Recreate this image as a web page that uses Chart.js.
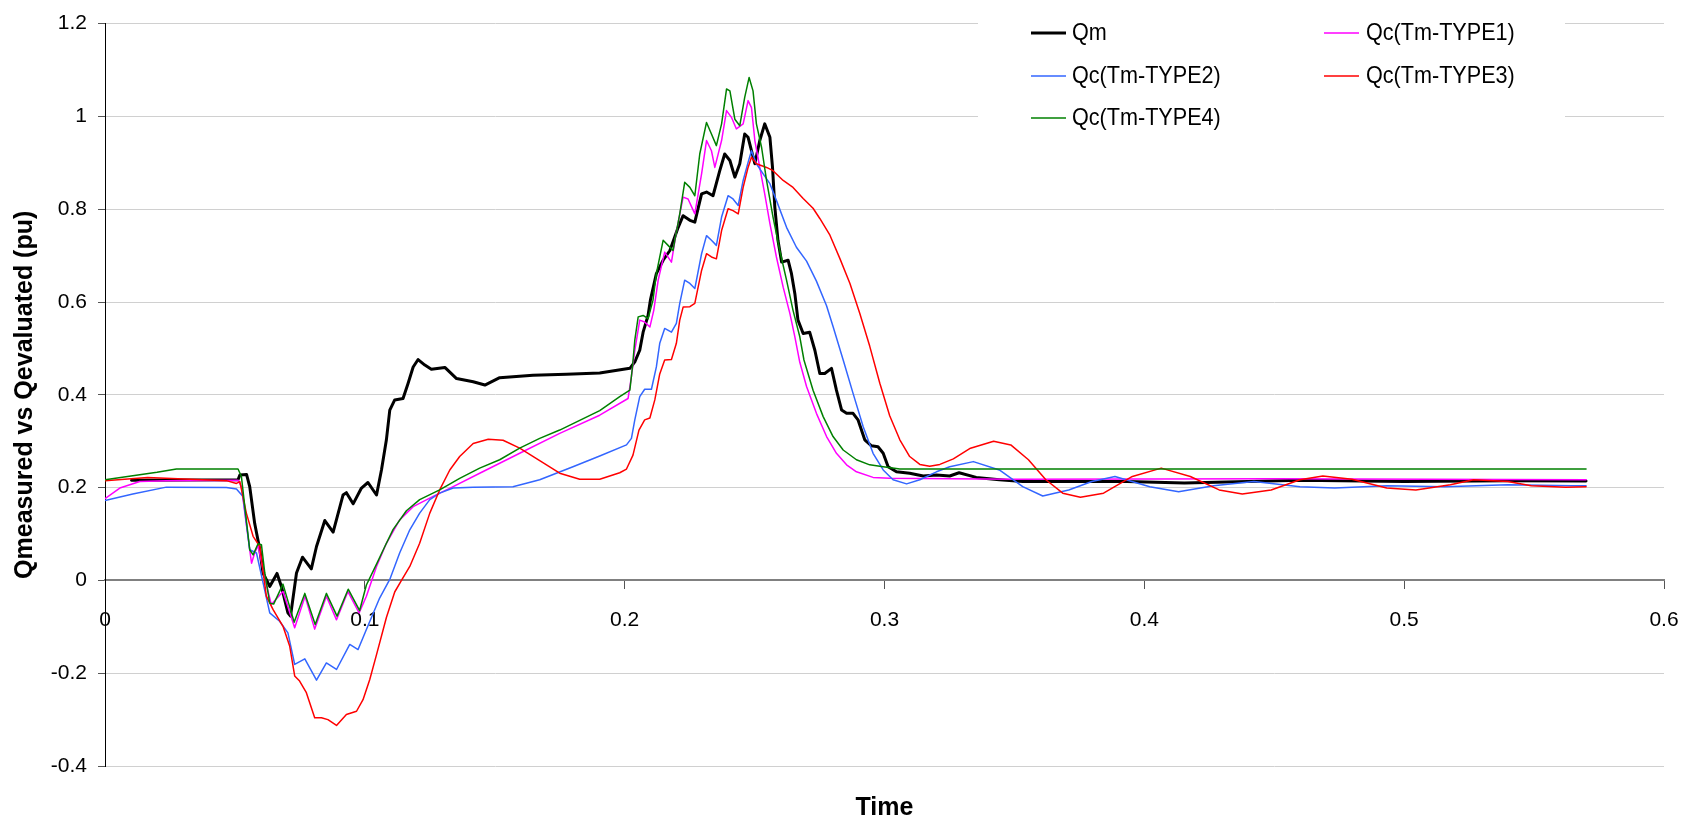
<!DOCTYPE html>
<html>
<head>
<meta charset="utf-8">
<script src="https://cdn.jsdelivr.net/npm/chart.js@4.4.1/dist/chart.umd.min.js"></script>
<style>
  html, body { margin: 0; padding: 0; background: #fff; }
  #c { display: block; }
</style>
</head>
<body>
<canvas id="c" width="1682" height="821"></canvas>
<script>
// ---------- DATA ----------
const seriesLabels = ['Qm', 'Qc(Tm-TYPE1)', 'Qc(Tm-TYPE2)', 'Qc(Tm-TYPE3)', 'Qc(Tm-TYPE4)'];
const xTickLabels = ['0', '0.1', '0.2', '0.3', '0.4', '0.5', '0.6'];
const yTickLabels = ['-0.4', '-0.2', '0', '0.2', '0.4', '0.6', '0.8', '1', '1.2'];
const xAxisTitle = 'Time';
const yAxisTitle = 'Qmeasured vs Qevaluated (pu)';

const qmTime = [0.0102, 0.0512, 0.0519, 0.0545, 0.0557, 0.0576, 0.0596, 0.0608, 0.0634, 0.0662,
  0.0679, 0.0704, 0.0714, 0.0737, 0.0760, 0.0794, 0.0814, 0.0846, 0.0878, 0.0916,
  0.0929, 0.0955, 0.0987, 0.1012, 0.1045, 0.1064, 0.1083, 0.1096, 0.1115, 0.1147,
  0.1166, 0.1186, 0.1205, 0.1231, 0.1256, 0.1308, 0.1353, 0.1417, 0.1462, 0.1519,
  0.1647, 0.1776, 0.1904, 0.2020, 0.2039, 0.2058, 0.2071, 0.2090, 0.2099, 0.2122,
  0.2148, 0.2174, 0.2206, 0.2225, 0.2251, 0.2270, 0.2296, 0.2315, 0.2340, 0.2366,
  0.2385, 0.2405, 0.2424, 0.2443, 0.2462, 0.2475, 0.2488, 0.2501, 0.2520, 0.2539,
  0.2559, 0.2569, 0.2578, 0.2590, 0.2604, 0.2629, 0.2642, 0.2655, 0.2667, 0.2687,
  0.2712, 0.2732, 0.2751, 0.2770, 0.2796, 0.2815, 0.2835, 0.2854, 0.2879, 0.2898,
  0.2924, 0.2950, 0.2975, 0.2995, 0.3014, 0.3046, 0.3097, 0.3149, 0.3200, 0.3251,
  0.3287, 0.3353, 0.3442, 0.3532, 0.3933, 0.4154, 0.4599, 0.5000, 0.5400, 0.5700];
const qmValues = [0.216, 0.217, 0.227, 0.228, 0.202, 0.123, 0.066, 0.016, -0.013, 0.015,
  -0.013, -0.070, -0.077, 0.016, 0.050, 0.025, 0.073, 0.129, 0.104, 0.184,
  0.189, 0.165, 0.199, 0.211, 0.184, 0.238, 0.303, 0.367, 0.389, 0.392,
  0.424, 0.460, 0.476, 0.464, 0.455, 0.459, 0.435, 0.428, 0.421, 0.437,
  0.442, 0.4445, 0.447, 0.457, 0.471, 0.496, 0.535, 0.571, 0.604, 0.661,
  0.690, 0.711, 0.761, 0.786, 0.776, 0.772, 0.833, 0.837, 0.829, 0.883,
  0.919, 0.905, 0.869, 0.898, 0.962, 0.955, 0.926, 0.898, 0.948, 0.984,
  0.955, 0.890, 0.804, 0.733, 0.686, 0.690, 0.661, 0.618, 0.561, 0.532,
  0.535, 0.496, 0.446, 0.446, 0.457, 0.410, 0.367, 0.360, 0.360, 0.346,
  0.303, 0.290, 0.288, 0.274, 0.245, 0.234, 0.231, 0.225, 0.227, 0.225,
  0.232, 0.222, 0.217, 0.213, 0.213, 0.210, 0.216, 0.213, 0.215, 0.214];

const type1Time = [0, 0.0057, 0.0134, 0.0236, 0.0512, 0.0525, 0.0544, 0.0564, 0.0576, 0.0589,
  0.0615, 0.0640, 0.0685, 0.0730, 0.0770, 0.0807, 0.0852, 0.0891, 0.0935, 0.0978,
  0.1006, 0.1045, 0.1083, 0.1134, 0.1186, 0.1263, 0.1340, 0.1442, 0.1596, 0.1750,
  0.1904, 0.2013, 0.2026, 0.2039, 0.2058, 0.2077, 0.2097, 0.2112, 0.2129, 0.2154,
  0.2180, 0.2199, 0.2225, 0.2244, 0.2270, 0.2296, 0.2315, 0.2334, 0.2347, 0.2373,
  0.2392, 0.2411, 0.2430, 0.2456, 0.2475, 0.2488, 0.2501, 0.2520, 0.2539, 0.2559,
  0.2584, 0.2610, 0.2636, 0.2655, 0.2674, 0.2700, 0.2738, 0.2777, 0.2815, 0.2854,
  0.2892, 0.2956, 0.3020, 0.3500, 0.4500, 0.5700];
const type1Values = [0.176, 0.199, 0.213, 0.215, 0.216, 0.202, 0.120, 0.037, 0.059, 0.075,
  0.005, -0.052, -0.024, -0.102, -0.034, -0.105, -0.034, -0.085, -0.024, -0.070,
  -0.034, 0.030, 0.080, 0.1305, 0.159, 0.181, 0.202, 0.231, 0.274, 0.317,
  0.356, 0.392, 0.439, 0.496, 0.561, 0.557, 0.546, 0.582, 0.647, 0.7075,
  0.686, 0.751, 0.826, 0.822, 0.790, 0.876, 0.948, 0.926, 0.890, 0.948,
  1.0125, 0.998, 0.973, 0.984, 1.034, 1.019, 0.948, 0.890, 0.833, 0.769,
  0.697, 0.632, 0.575, 0.525, 0.470, 0.418, 0.360, 0.310, 0.274, 0.249,
  0.234, 0.222, 0.220, 0.218, 0.219, 0.217];

const type2Time = [0, 0.0107, 0.0236, 0.0467, 0.0506, 0.0531, 0.0557, 0.0583, 0.0634, 0.0672,
  0.0704, 0.0730, 0.0769, 0.0814, 0.0852, 0.0891, 0.0942, 0.0974, 0.1006, 0.1057,
  0.1096, 0.1134, 0.1173, 0.1211, 0.1250, 0.1288, 0.1340, 0.1417, 0.1570, 0.1673,
  0.1801, 0.1904, 0.2007, 0.2026, 0.2039, 0.2058, 0.2077, 0.2103, 0.2122, 0.2135,
  0.2154, 0.2180, 0.2199, 0.2212, 0.2231, 0.2251, 0.2270, 0.2296, 0.2315, 0.2334,
  0.2353, 0.2373, 0.2398, 0.2417, 0.2437, 0.2456, 0.2475, 0.2488, 0.2507, 0.2533,
  0.2559, 0.2584, 0.2623, 0.2661, 0.2700, 0.2738, 0.2777, 0.2802, 0.2841, 0.2879,
  0.2918, 0.2956, 0.2995, 0.3033, 0.3085, 0.3136, 0.3200, 0.3251, 0.3342, 0.3442,
  0.3532, 0.3609, 0.3709, 0.3798, 0.3887, 0.4021, 0.4132, 0.4266, 0.4422, 0.4599,
  0.4733, 0.4933, 0.5156, 0.5399, 0.5646, 0.5700];
const type2Values = [0.172, 0.186, 0.201, 0.200, 0.197, 0.181, 0.066, 0.059, -0.070, -0.088,
  -0.113, -0.181, -0.169, -0.215, -0.178, -0.192, -0.138, -0.149, -0.106, -0.038,
  0.002, 0.059, 0.109, 0.145, 0.174, 0.188, 0.199, 0.201, 0.202, 0.217,
  0.245, 0.268, 0.292, 0.306, 0.346, 0.396, 0.412, 0.412, 0.460, 0.511,
  0.543, 0.535, 0.554, 0.597, 0.647, 0.640, 0.629, 0.704, 0.743, 0.733,
  0.722, 0.783, 0.829, 0.822, 0.808, 0.862, 0.901, 0.926, 0.898, 0.876,
  0.855, 0.819, 0.761, 0.718, 0.688, 0.645, 0.592, 0.547, 0.475, 0.403,
  0.331, 0.274, 0.238, 0.217, 0.208, 0.217, 0.234, 0.245, 0.256, 0.238,
  0.202, 0.182, 0.195, 0.213, 0.224, 0.202, 0.191, 0.204, 0.213, 0.202,
  0.199, 0.204, 0.202, 0.206, 0.204, 0.204];

const type3Time = [0, 0.0164, 0.0467, 0.0506, 0.0519, 0.0544, 0.0570, 0.0596, 0.0621, 0.0647,
  0.0685, 0.0711, 0.0730, 0.0749, 0.0775, 0.0807, 0.0833, 0.0858, 0.0891, 0.0929,
  0.0968, 0.0993, 0.1019, 0.1045, 0.1083, 0.1115, 0.1141, 0.1173, 0.1211, 0.1250,
  0.1288, 0.1327, 0.1365, 0.1417, 0.1475, 0.1532, 0.1596, 0.1673, 0.1750, 0.1827,
  0.1904, 0.1981, 0.2007, 0.2032, 0.2055, 0.2077, 0.2097, 0.2116, 0.2135, 0.2154,
  0.2180, 0.2199, 0.2212, 0.2225, 0.2251, 0.2270, 0.2296, 0.2315, 0.2334, 0.2353,
  0.2373, 0.2398, 0.2417, 0.2437, 0.2456, 0.2475, 0.2488, 0.2507, 0.2546, 0.2571,
  0.2610, 0.2648, 0.2687, 0.2725, 0.2751, 0.2790, 0.2828, 0.2867, 0.2905, 0.2943,
  0.2982, 0.3020, 0.3059, 0.3097, 0.3136, 0.3174, 0.3213, 0.3265, 0.3331, 0.3420,
  0.3486, 0.3554, 0.3621, 0.3686, 0.3754, 0.3843, 0.3954, 0.4065, 0.4177, 0.4288,
  0.4377, 0.4488, 0.4599, 0.4687, 0.4799, 0.4933, 0.5045, 0.5178, 0.5267, 0.5399,
  0.5489, 0.5622, 0.5700];
const type3Values = [0.215, 0.222, 0.215, 0.209, 0.213, 0.145, 0.095, 0.073, -0.034, -0.063,
  -0.099, -0.142, -0.206, -0.217, -0.242, -0.296, -0.296, -0.300, -0.3125, -0.289,
  -0.282, -0.257, -0.2135, -0.160, -0.080, -0.025, 0.000, 0.030, 0.080, 0.145,
  0.195, 0.238, 0.267, 0.295, 0.304, 0.302, 0.285, 0.258, 0.231, 0.218,
  0.218, 0.232, 0.240, 0.270, 0.324, 0.346, 0.350, 0.389, 0.445, 0.475,
  0.476, 0.511, 0.561, 0.589, 0.590, 0.597, 0.668, 0.704, 0.697, 0.693,
  0.754, 0.801, 0.797, 0.790, 0.847, 0.890, 0.912, 0.898, 0.890, 0.883,
  0.862, 0.847, 0.823, 0.802, 0.780, 0.744, 0.694, 0.640, 0.575, 0.505,
  0.425, 0.355, 0.303, 0.267, 0.250, 0.246, 0.250, 0.262, 0.285, 0.300,
  0.292, 0.260, 0.217, 0.188, 0.179, 0.188, 0.224, 0.242, 0.224, 0.195,
  0.186, 0.195, 0.217, 0.225, 0.218, 0.199, 0.195, 0.206, 0.217, 0.213,
  0.204, 0.201, 0.202];

const type4Time = [0, 0.0100, 0.0200, 0.0275, 0.0512, 0.0525, 0.0538, 0.0557, 0.0570, 0.0589,
  0.0602, 0.0615, 0.0634, 0.0649, 0.0685, 0.0728, 0.0769, 0.0809, 0.0852, 0.0893,
  0.0936, 0.0980, 0.1006, 0.1045, 0.1077, 0.1109, 0.1160, 0.1211, 0.1288, 0.1365,
  0.1442, 0.1519, 0.1596, 0.1673, 0.1750, 0.1827, 0.1904, 0.1981, 0.2020, 0.2030,
  0.2039, 0.2052, 0.2071, 0.2090, 0.2109, 0.2122, 0.2148, 0.2167, 0.2186, 0.2212,
  0.2231, 0.2251, 0.2270, 0.2289, 0.2315, 0.2334, 0.2353, 0.2373, 0.2392, 0.2405,
  0.2424, 0.2443, 0.2462, 0.2479, 0.2494, 0.2507, 0.2527, 0.2546, 0.2571, 0.2597,
  0.2623, 0.2648, 0.2674, 0.2690, 0.2725, 0.2764, 0.2802, 0.2841, 0.2892, 0.2943,
  0.2995, 0.3059, 0.5700];
const type4Values = [0.217, 0.225, 0.233, 0.240, 0.240, 0.224, 0.159, 0.066, 0.055, 0.079,
  0.077, 0.016, -0.049, -0.051, -0.008, -0.090, -0.028, -0.095, -0.028, -0.077,
  -0.019, -0.065, -0.010, 0.035, 0.073, 0.110, 0.150, 0.174, 0.195, 0.220,
  0.242, 0.260, 0.285, 0.306, 0.324, 0.345, 0.366, 0.396, 0.410, 0.460,
  0.518, 0.568, 0.571, 0.564, 0.604, 0.661, 0.733, 0.722, 0.711, 0.790,
  0.858, 0.847, 0.829, 0.919, 0.987, 0.962, 0.937, 0.984, 1.059, 1.055,
  0.994, 0.980, 1.041, 1.084, 1.055, 0.984, 0.933, 0.862, 0.783, 0.711,
  0.647, 0.582, 0.525, 0.475, 0.410, 0.353, 0.310, 0.281, 0.260, 0.249,
  0.245, 0.240, 0.240];

// ---------- CHART ----------
const pairs = (t, v) => t.map((x, i) => ({ x: x, y: v[i] }));

Chart.defaults.font.family = "'Liberation Sans', Arial, sans-serif";
Chart.defaults.color = '#000';

const seriesStyle = [
  { color: '#000000', width: 3 },
  { color: '#FF00FF', width: 1.5 },
  { color: '#3366FF', width: 1.5 },
  { color: '#FF0000', width: 1.5 },
  { color: '#008000', width: 1.5 }
];
const seriesData = [
  pairs(qmTime, qmValues),
  pairs(type1Time, type1Values),
  pairs(type2Time, type2Values),
  pairs(type3Time, type3Values),
  pairs(type4Time, type4Values)
];

const datasets = seriesLabels.map((label, i) => ({
  label: label,
  data: seriesData[i],
  borderColor: seriesStyle[i].color,
  backgroundColor: seriesStyle[i].color,
  borderWidth: seriesStyle[i].width,
  pointRadius: 0,
  tension: 0,
  fill: false,
  order: seriesLabels.length - 1 - i,
  borderJoinStyle: 'round',
  borderCapStyle: 'round'
}));

// Excel-like legend box drawn inside the plot area
const legendPlugin = {
  id: 'boxLegend',
  afterDraw(chart) {
    const ctx = chart.ctx;
    const box = { x0: 978, y0: 6, x1: 1565, y1: 138 };
    const cols = [{ line: 1031, text: 1072 }, { line: 1324, text: 1366 }];
    const rows = [33, 76, 118];
    const lineLen = 35;
    ctx.save();
    ctx.fillStyle = '#ffffff';
    ctx.fillRect(box.x0, box.y0, box.x1 - box.x0, box.y1 - box.y0);
    ctx.font = "24px 'Liberation Sans', Arial, sans-serif";
    ctx.textBaseline = 'middle';
    ctx.textAlign = 'left';
    chart.data.datasets.forEach((ds, i) => {
      const c = cols[i % 2];
      const y = rows[Math.floor(i / 2)];
      ctx.strokeStyle = ds.borderColor;
      ctx.lineWidth = ds.borderWidth;
      ctx.beginPath();
      ctx.moveTo(c.line, y);
      ctx.lineTo(c.line + lineLen, y);
      ctx.stroke();
      ctx.save();
      ctx.translate(c.text, y);
      ctx.scale(0.9, 1);
      ctx.fillStyle = '#000';
      ctx.fillText(ds.label, 0, 0);
      ctx.restore();
    });
    ctx.restore();
  }
};

new Chart(document.getElementById('c'), {
  type: 'line',
  data: { datasets: datasets },
  options: {
    responsive: false,
    animation: false,
    devicePixelRatio: 1,
    layout: { padding: { left: 0, right: 18, top: 23, bottom: 0 } },
    scales: {
      x: {
        type: 'linear',
        position: { y: 0 },
        min: 0,
        max: 0.6,
        ticks: {
          stepSize: 0.1,
          maxRotation: 0,
          autoSkip: false,
          padding: 19,
          font: { size: 21 },
          color: '#000',
          callback: (v, i) => xTickLabels[i]
        },
        grid: { drawOnChartArea: false, drawTicks: true, tickLength: 8, tickColor: '#555', tickWidth: 1 },
        border: { display: true, color: '#808080', width: 2 },
        afterFit: (s) => { s.height = 0; s.paddingLeft = 0; s.paddingRight = 0; }
      },
      y: {
        type: 'linear',
        min: -0.4,
        max: 1.2,
        ticks: {
          stepSize: 0.2,
          autoSkip: false,
          padding: 11,
          font: { size: 21 },
          color: '#000',
          callback: (v, i) => yTickLabels[i]
        },
        grid: { color: '#d0d0d0', lineWidth: 1, drawTicks: true, tickLength: 7, tickColor: '#555' },
        border: { display: true, color: '#000', width: 1 },
        title: {
          display: true,
          text: yAxisTitle,
          font: { size: 25, weight: 'bold', lineHeight: 1 },
          color: '#000',
          padding: { top: 12.5, bottom: 0 }
        },
        afterFit: (s) => { s.width = 105; }
      }
    },
    plugins: {
      legend: { display: false },
      tooltip: { enabled: false },
      title: {
        display: true,
        fullSize: false,
        text: xAxisTitle,
        position: 'bottom',
        color: '#000',
        font: { size: 25, weight: 'bold', lineHeight: 1 },
        padding: { top: 30, bottom: 0 }
      }
    }
  },
  plugins: [legendPlugin]
});
</script>
</body>
</html>
